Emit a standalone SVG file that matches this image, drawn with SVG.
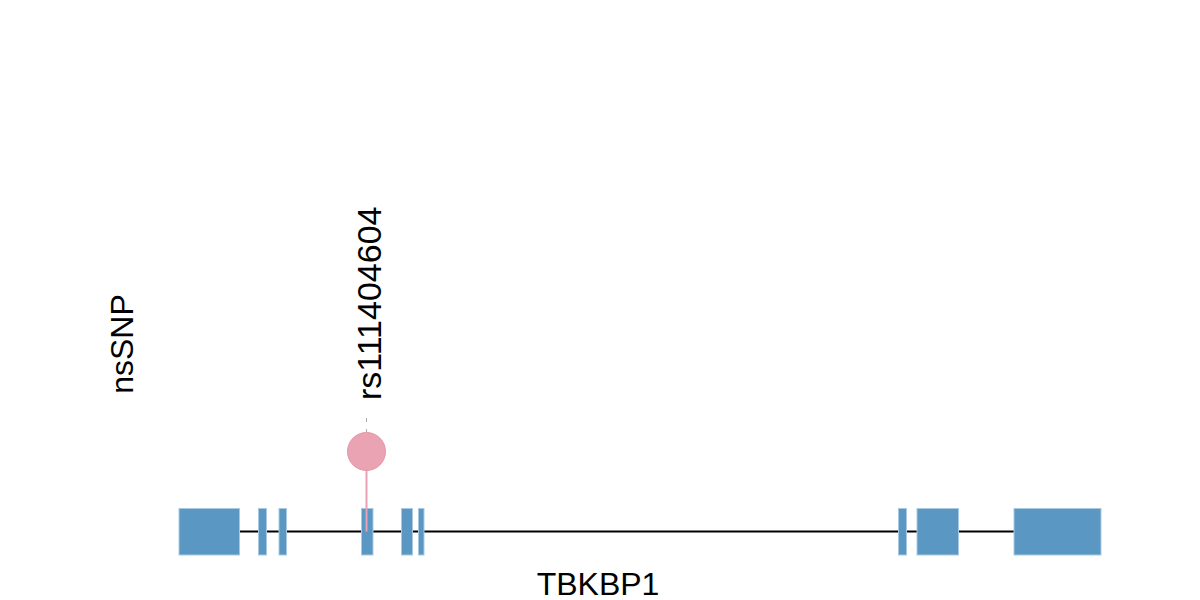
<svg xmlns="http://www.w3.org/2000/svg" width="1200" height="600" viewBox="0 0 1200 600">
<style>
.exon{fill:#5b97c3;stroke:#a9c9e1;stroke-width:1}
.lbl{font-family:"Liberation Sans",Arial,sans-serif;font-size:32px;fill:#000}
</style>
<rect width="1200" height="600" fill="#fff"/>
<g id="gene">
<line x1="179" y1="531.5" x2="1101" y2="531.5" stroke="#000" stroke-width="2"/>
<rect class="exon" x="179" y="508.5" width="60.5" height="46.5"/>
<rect class="exon" x="258.5" y="508.5" width="8" height="46.5"/>
<rect class="exon" x="279" y="508.5" width="7.5" height="46.5"/>
<rect class="exon" x="361.5" y="508.5" width="11.5" height="46.5"/>
<rect class="exon" x="401.5" y="508.5" width="11" height="46.5"/>
<rect class="exon" x="418.5" y="508.5" width="5.5" height="46.5"/>
<rect class="exon" x="898.5" y="508.5" width="8" height="46.5"/>
<rect class="exon" x="917" y="508.5" width="41.5" height="46.5"/>
<rect class="exon" x="1014" y="508.5" width="87" height="46.5"/>
</g>
<g id="connectors">
<line x1="366.5" y1="418" x2="366.5" y2="432" stroke="#aaa" stroke-width="1" stroke-dasharray="4,7"/>
<line x1="366.5" y1="451" x2="366.5" y2="531.5" stroke="#e8a1b3" stroke-width="2"/>
</g>
<g id="snp">
<circle cx="366.5" cy="451.5" r="19" fill="#e9a3b2" stroke="#e596a8" stroke-width="1"/>
<text class="lbl" style="font-size:34px" transform="translate(380.5,400) rotate(-90)">rs111404604</text>
</g>
<g id="track-label">
<text class="lbl" text-anchor="middle" transform="translate(133,344) rotate(-90)">nsSNP</text>
</g>
<g id="gene-label">
<text class="lbl" x="598" y="595" text-anchor="middle">TBKBP1</text>
</g>
</svg>
